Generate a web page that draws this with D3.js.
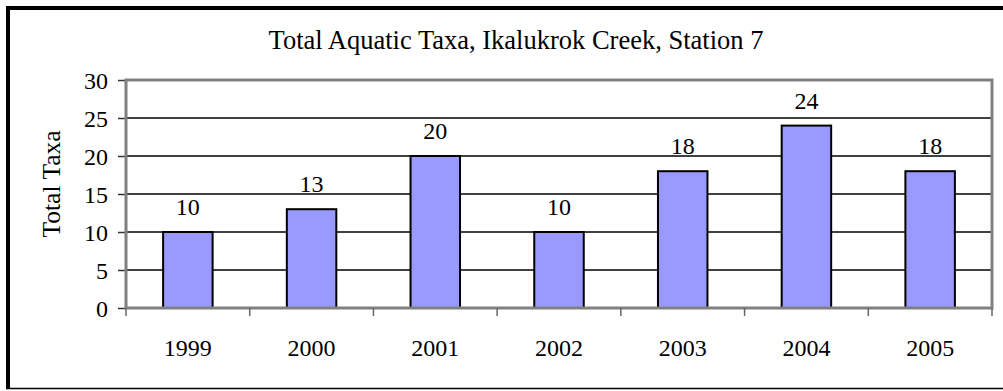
<!DOCTYPE html>
<html>
<head>
<meta charset="utf-8">
<script src="https://cdn.jsdelivr.net/npm/d3@7"></script>
<style>
  body { margin: 0; background: #fff; }
  svg { display: block; }
</style>
</head>
<body>
<svg id="chart"></svg>
<script>
const years = ["1999", "2000", "2001", "2002", "2003", "2004", "2005"];
const taxa = [10, 13, 20, 10, 18, 24, 18];
const yTicks = [0, 5, 10, 15, 20, 25, 30];

const width = 1003, height = 391;
const plot = { left: 126, right: 992, top: 80, bottom: 308 };
const serif = "'Liberation Serif'";

const svg = d3.select("#chart").attr("width", width).attr("height", height);

// outer frame (right edge falls off the picture)
svg.append("line").attr("x1", 8).attr("x2", width).attr("y1", 8).attr("y2", 8)
   .attr("stroke", "#000").attr("stroke-width", 4);
svg.append("line").attr("x1", 8).attr("x2", 8).attr("y1", 6).attr("y2", 389)
   .attr("stroke", "#000").attr("stroke-width", 4);
svg.append("line").attr("x1", 6).attr("x2", width).attr("y1", 388.5).attr("y2", 388.5)
   .attr("stroke", "#000").attr("stroke-width", 1.5);

const x = d3.scaleBand()
   .domain(years)
   .range([plot.left, plot.right])
   .paddingInner(0.6)
   .paddingOuter(0.3);

const y = d3.scaleLinear().domain([0, 30]).range([plot.bottom, plot.top]);

// ---------------------- gridlines
svg.append("g")
   .selectAll("line")
   .data(yTicks.filter(d => d > 0 && d < 30))
   .join("line")
   .attr("x1", plot.left).attr("x2", plot.right)
   .attr("y1", d => y(d)).attr("y2", d => y(d))
   .attr("stroke", "#000").attr("stroke-width", 1.5);

// ---------------------- y axis
const yAxis = svg.append("g")
   .attr("transform", `translate(${plot.left},0)`)
   .call(d3.axisLeft(y).tickValues(yTicks).tickSize(8).tickPadding(10));
yAxis.select(".domain").remove();
yAxis.selectAll(".tick line").attr("stroke", "#333").attr("stroke-width", 1.5);
yAxis.selectAll(".tick text")
   .style("font-family", serif)
   .style("font-size", "24px")
   .attr("fill", "#000")
   .attr("dy", "0.36em");

// ---------------------- bars
svg.append("g")
   .selectAll("rect")
   .data(taxa)
   .join("rect")
   .attr("x", (_, i) => x(years[i]))
   .attr("width", x.bandwidth())
   .attr("y", d => y(d))
   .attr("height", d => y(0) - y(d))
   .attr("fill", "#9999FF")
   .attr("stroke", "#000")
   .attr("stroke-width", 2);

// ---------------------- plot frame (gray)
svg.append("rect")
   .attr("x", plot.left).attr("y", plot.top)
   .attr("width", plot.right - plot.left).attr("height", plot.bottom - plot.top)
   .attr("fill", "none").attr("stroke", "#808080").attr("stroke-width", 3);

// ---------------------- x axis ticks at category boundaries
const bounds = d3.range(years.length + 1).map(i => plot.left + i * x.step());
svg.append("g")
   .selectAll("line")
   .data(bounds)
   .join("line")
   .attr("x1", d => d).attr("x2", d => d)
   .attr("y1", plot.bottom).attr("y2", plot.bottom + 8)
   .attr("stroke", "#666").attr("stroke-width", 1.5);

svg.append("g")
   .selectAll("text")
   .data(years)
   .join("text")
   .attr("x", d => x(d) + x.bandwidth() / 2)
   .attr("y", 356)
   .attr("text-anchor", "middle")
   .style("font-family", serif)
   .style("font-size", "24px")
   .text(d => d);

// ---------------------- value labels
svg.append("g")
   .selectAll("text")
   .data(taxa)
   .join("text")
   .attr("x", (_, i) => x(years[i]) + x.bandwidth() / 2)
   .attr("y", d => y(d) - 17)
   .attr("text-anchor", "middle")
   .style("font-family", serif)
   .style("font-size", "24px")
   .text(d => d);

// ---------------------- titles
svg.append("text")
   .attr("x", 516).attr("y", 48.5)
   .attr("text-anchor", "middle")
   .style("font-family", serif)
   .style("font-size", "26.5px")
   .text("Total Aquatic Taxa, Ikalukrok Creek, Station 7");

svg.append("text")
   .attr("transform", "translate(59.5,184) rotate(-90)")
   .attr("text-anchor", "middle")
   .style("font-family", serif)
   .style("font-size", "25.5px")
   .text("Total Taxa");
</script>
</body>
</html>
